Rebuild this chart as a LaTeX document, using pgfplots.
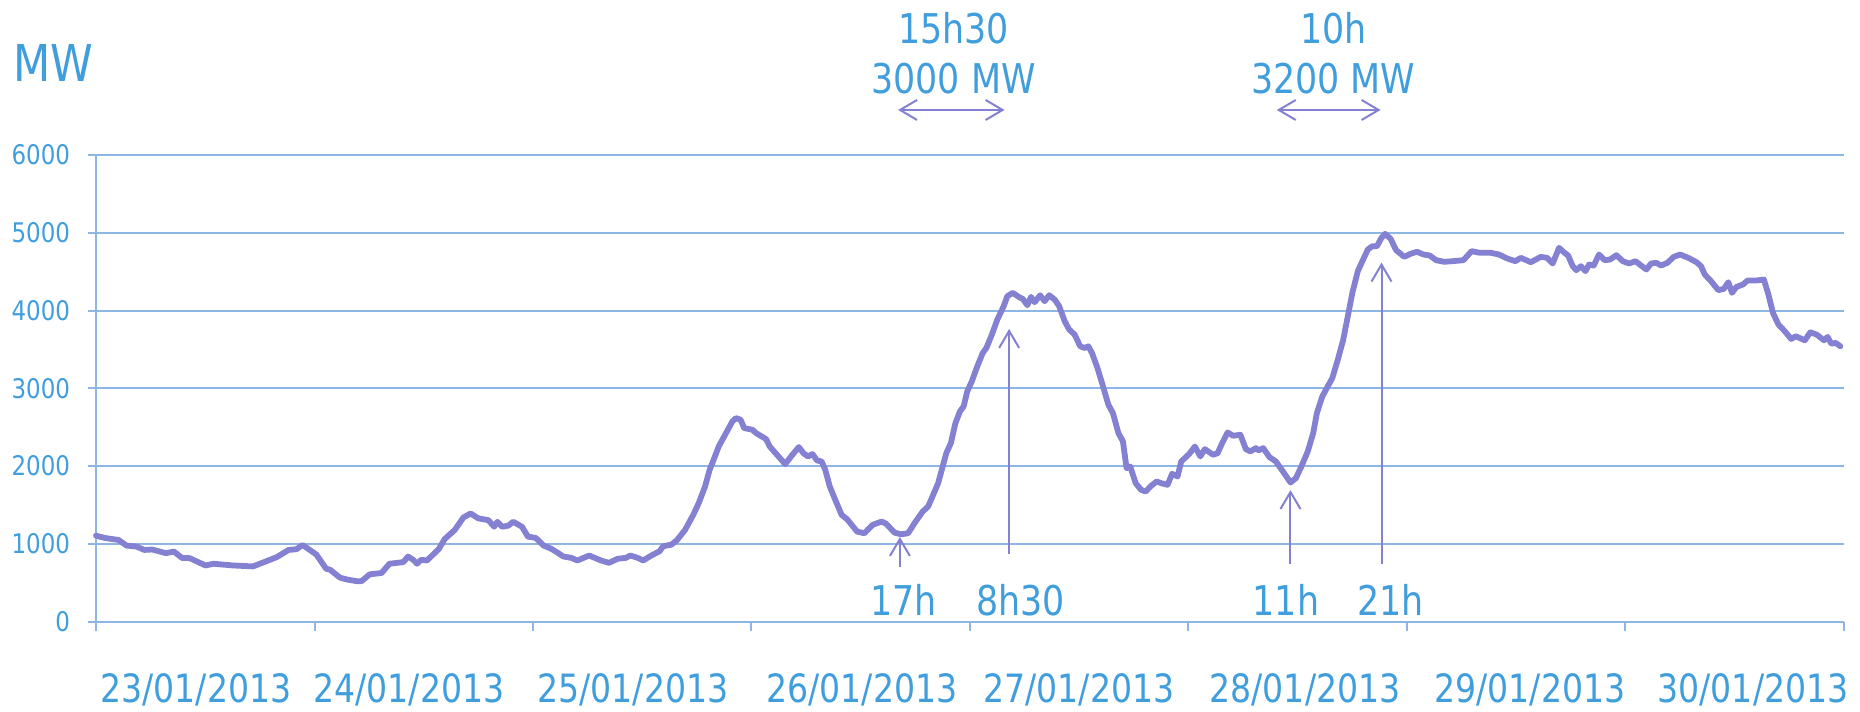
\documentclass[border=0pt]{standalone}
\usepackage{pgfplots}
\pgfplotsset{compat=1.18}
\usepackage{fontspec}
\setmainfont{DejaVu Sans}[FakeStretch=0.85]
\usetikzlibrary{arrows.meta}
\definecolor{gridc}{RGB}{141,182,228}
\definecolor{txtc}{RGB}{64,158,220}
\definecolor{linec}{RGB}{132,128,210}
\newcommand\annfont{\fontsize{20.5}{24}\selectfont}
\newcommand\datefont{\fontsize{19.5}{23}\selectfont}
\newcommand\mwfont{\fontsize{25.4}{30}\selectfont}
\tikzset{annot/.style={draw=linec, line width=1pt},
  barb/.tip={Straight Barb[length=8.5pt,width=10pt,line width=1pt]}}
\pgfplotstableread{
h mw
0 1106
0.96 1077
2.48 1051
3.35 979
4.43 966
5.30 923
6.17 928
7.69 881
8.56 902
9.43 821
10.3 817
12.03 723
12.9 745
15.07 723
17.25 711
19.85 830
21.16 923
22.02 932
22.68 987
24.2 864
25.28 681
25.72 668
26.8 566
27.67 540
28.76 519
29.19 523
30.06 609
31.36 626
32.23 745
33.75 766
34.27 838
34.84 796
35.27 745
35.71 796
36.36 787
37.66 936
38.31 1064
39.4 1179
40.36 1340
41.14 1391
42.01 1328
43.09 1306
43.74 1221
44.09 1285
44.61 1221
45.27 1234
45.83 1285
46.79 1221
47.44 1094
48.31 1077
49.17 979
50.04 936
51.35 838
52.21 821
52.87 787
54.17 851
55.47 787
56.34 757
57.3 809
58.2 821
58.7 851
59.5 821
60.1 787
61.0 851
61.9 906
62.3 970
63.2 991
63.8 1047
64.7 1180
65.6 1373
66.2 1524
66.9 1738
67.4 1953
67.7 2039
68.4 2253
69.3 2446
69.9 2575
70.3 2618
70.8 2597
71.2 2489
72.1 2468
72.5 2425
73.6 2348
74.0 2253
74.9 2133
75.7 2026
76.4 2133
77.2 2245
77.7 2167
78.2 2125
78.7 2155
79.2 2073
79.7 2060
80.1 1953
80.6 1738
81.2 1567
81.9 1373
82.5 1318
83.6 1159
84.4 1137
85.3 1245
86.3 1288
86.8 1258
87.7 1146
88.4 1124
89.2 1137
89.9 1266
90.8 1416
91.4 1481
91.8 1588
92.5 1781
92.9 1953
93.4 2167
93.9 2296
94.4 2554
94.9 2704
95.3 2768
95.7 2961
96.2 3090
96.8 3283
97.4 3455
97.8 3519
98.4 3691
99.0 3884
99.7 4056
100.1 4185
100.7 4228
101.4 4172
101.8 4150
102.3 4069
102.7 4176
103.1 4107
103.7 4197
104.2 4120
104.7 4197
105.3 4142
105.8 4056
106.4 3863
106.9 3755
107.5 3691
108.1 3541
108.6 3519
109.0 3541
109.4 3455
110.0 3262
110.5 3069
111.2 2790
111.7 2682
112.3 2425
112.8 2318
113.2 1974
113.6 1996
114.2 1781
114.8 1695
115.3 1674
115.9 1747
116.5 1803
117.0 1781
117.7 1760
118.2 1901
118.8 1867
119.2 2060
120.1 2159
120.7 2253
121.3 2125
121.8 2219
122.7 2146
123.2 2167
123.7 2296
124.3 2433
124.9 2391
125.7 2403
126.3 2219
126.8 2189
127.4 2232
127.7 2202
128.2 2232
128.9 2116
129.6 2060
130.3 1944
131.2 1790
131.8 1845
132.4 1996
133.1 2189
133.7 2425
134.1 2682
134.7 2897
135.2 3004
135.8 3133
136.4 3369
137.0 3627
137.5 3927
138.0 4228
138.6 4507
139.1 4635
139.7 4786
140.2 4828
140.7 4828
141.2 4936
141.6 4987
142.2 4923
142.8 4777
143.7 4691
144.4 4730
145.1 4756
145.8 4721
146.5 4708
147.2 4648
148.1 4627
149.0 4635
150.2 4648
151.1 4764
152.0 4743
153.2 4743
154.1 4721
155.0 4670
155.9 4635
156.5 4678
157.6 4622
158.7 4691
159.4 4678
160.0 4605
160.7 4807
161.3 4743
161.7 4708
162.2 4571
162.6 4519
163.1 4571
163.6 4507
164.0 4592
164.5 4579
165.1 4721
165.7 4648
166.3 4656
167.0 4712
167.7 4635
168.4 4605
169.1 4635
169.8 4571
170.3 4528
170.8 4605
171.4 4614
171.9 4579
172.6 4614
173.3 4691
174.0 4721
174.9 4678
175.8 4622
176.3 4571
176.7 4464
177.4 4378
178.2 4262
178.8 4279
179.3 4365
179.7 4228
180.2 4305
180.9 4335
181.4 4386
182.3 4386
183.2 4399
183.7 4206
184.2 3970
184.8 3820
185.5 3734
186.2 3635
186.7 3670
187.7 3618
188.3 3721
189.0 3691
189.8 3618
190.2 3661
190.6 3575
191.1 3584
191.6 3541
}\datatable
\begin{document}
\begin{tikzpicture}
\begin{axis}[
  scale only axis,
  width=874pt, height=233.35pt,
  xmin=0, xmax=192, ymin=0, ymax=6000,
  clip=false,
  axis x line=bottom, axis y line=left,
  axis line style={draw=gridc, line width=1pt, -},
  ymajorgrids, grid style={draw=gridc, line width=1pt},
  tick align=outside,
  ytick={0,1000,...,6000},
  major tick length=4.2pt,
  ytick style={draw=gridc, line width=1pt},
  yticklabel style={font=\fontsize{13.5}{15}\selectfont, text=txtc, anchor=east, inner sep=0pt, xshift=-8.6pt},
  xtick={10.98,34.38,58.98,84.14,107.97,132.80,157.51,182.01},
  xticklabels={23/01/2013,24/01/2013,25/01/2013,26/01/2013,27/01/2013,28/01/2013,29/01/2013,30/01/2013},
  xtick style={draw=none},
  xticklabel style={font=\datefont, text=txtc, anchor=base, inner sep=0pt, yshift=-36.3pt},
  extra x ticks={0,24,...,192},
  extra x tick labels={},
  extra x tick style={xtick style={draw=gridc, line width=1pt}, major tick length=4.5pt},
  /pgf/number format/1000 sep={},
  /pgf/number format/assume math mode=true,
]
\addplot[draw=linec, line width=2.9pt, line join=round, line cap=round] table[x=h, y=mw] {\datatable};

\draw[annot, -barb] (axis cs:88.3,703) -- (axis cs:88.3,1089);
\draw[annot, -barb] (axis cs:100.3,870) -- (axis cs:100.3,3764);
\draw[annot, -barb] (axis cs:131.2,742) -- (axis cs:131.2,1693);
\draw[annot, -barb] (axis cs:141.2,742) -- (axis cs:141.2,4617);
\draw[annot, barb-barb] (axis cs:88.1,6579) -- (axis cs:99.8,6579);
\draw[annot, barb-barb] (axis cs:129.7,6579) -- (axis cs:141.1,6579);

\node[anchor=base, font=\annfont, text=txtc, inner sep=0pt] at (axis cs:94.2,7440) {15h30};
\node[anchor=base, font=\annfont, text=txtc, inner sep=0pt] at (axis cs:94.2,6797) {3000 MW};
\node[anchor=base, font=\annfont, text=txtc, inner sep=0pt] at (axis cs:135.9,7440) {10h};
\node[anchor=base, font=\annfont, text=txtc, inner sep=0pt] at (axis cs:135.9,6797) {3200 MW};
\node[anchor=base, font=\annfont, text=txtc, inner sep=0pt] at (axis cs:88.7,86) {17h};
\node[anchor=base, font=\annfont, text=txtc, inner sep=0pt] at (axis cs:101.55,86) {8h30};
\node[anchor=base, font=\annfont, text=txtc, inner sep=0pt] at (axis cs:130.7,86) {11h};
\node[anchor=base, font=\annfont, text=txtc, inner sep=0pt] at (axis cs:142.2,86) {21h};
\node[anchor=base west, font=\mwfont, text=txtc, inner sep=0pt] at (axis cs:-9.117,6939) {MW};

\coordinate (BBll) at (axis cs:-10.545,-1148);
\coordinate (BBur) at (axis cs:193.76,7993);
\end{axis}
\pgfresetboundingbox
\path[use as bounding box] (BBll) rectangle (BBur);
\end{tikzpicture}
\end{document}
